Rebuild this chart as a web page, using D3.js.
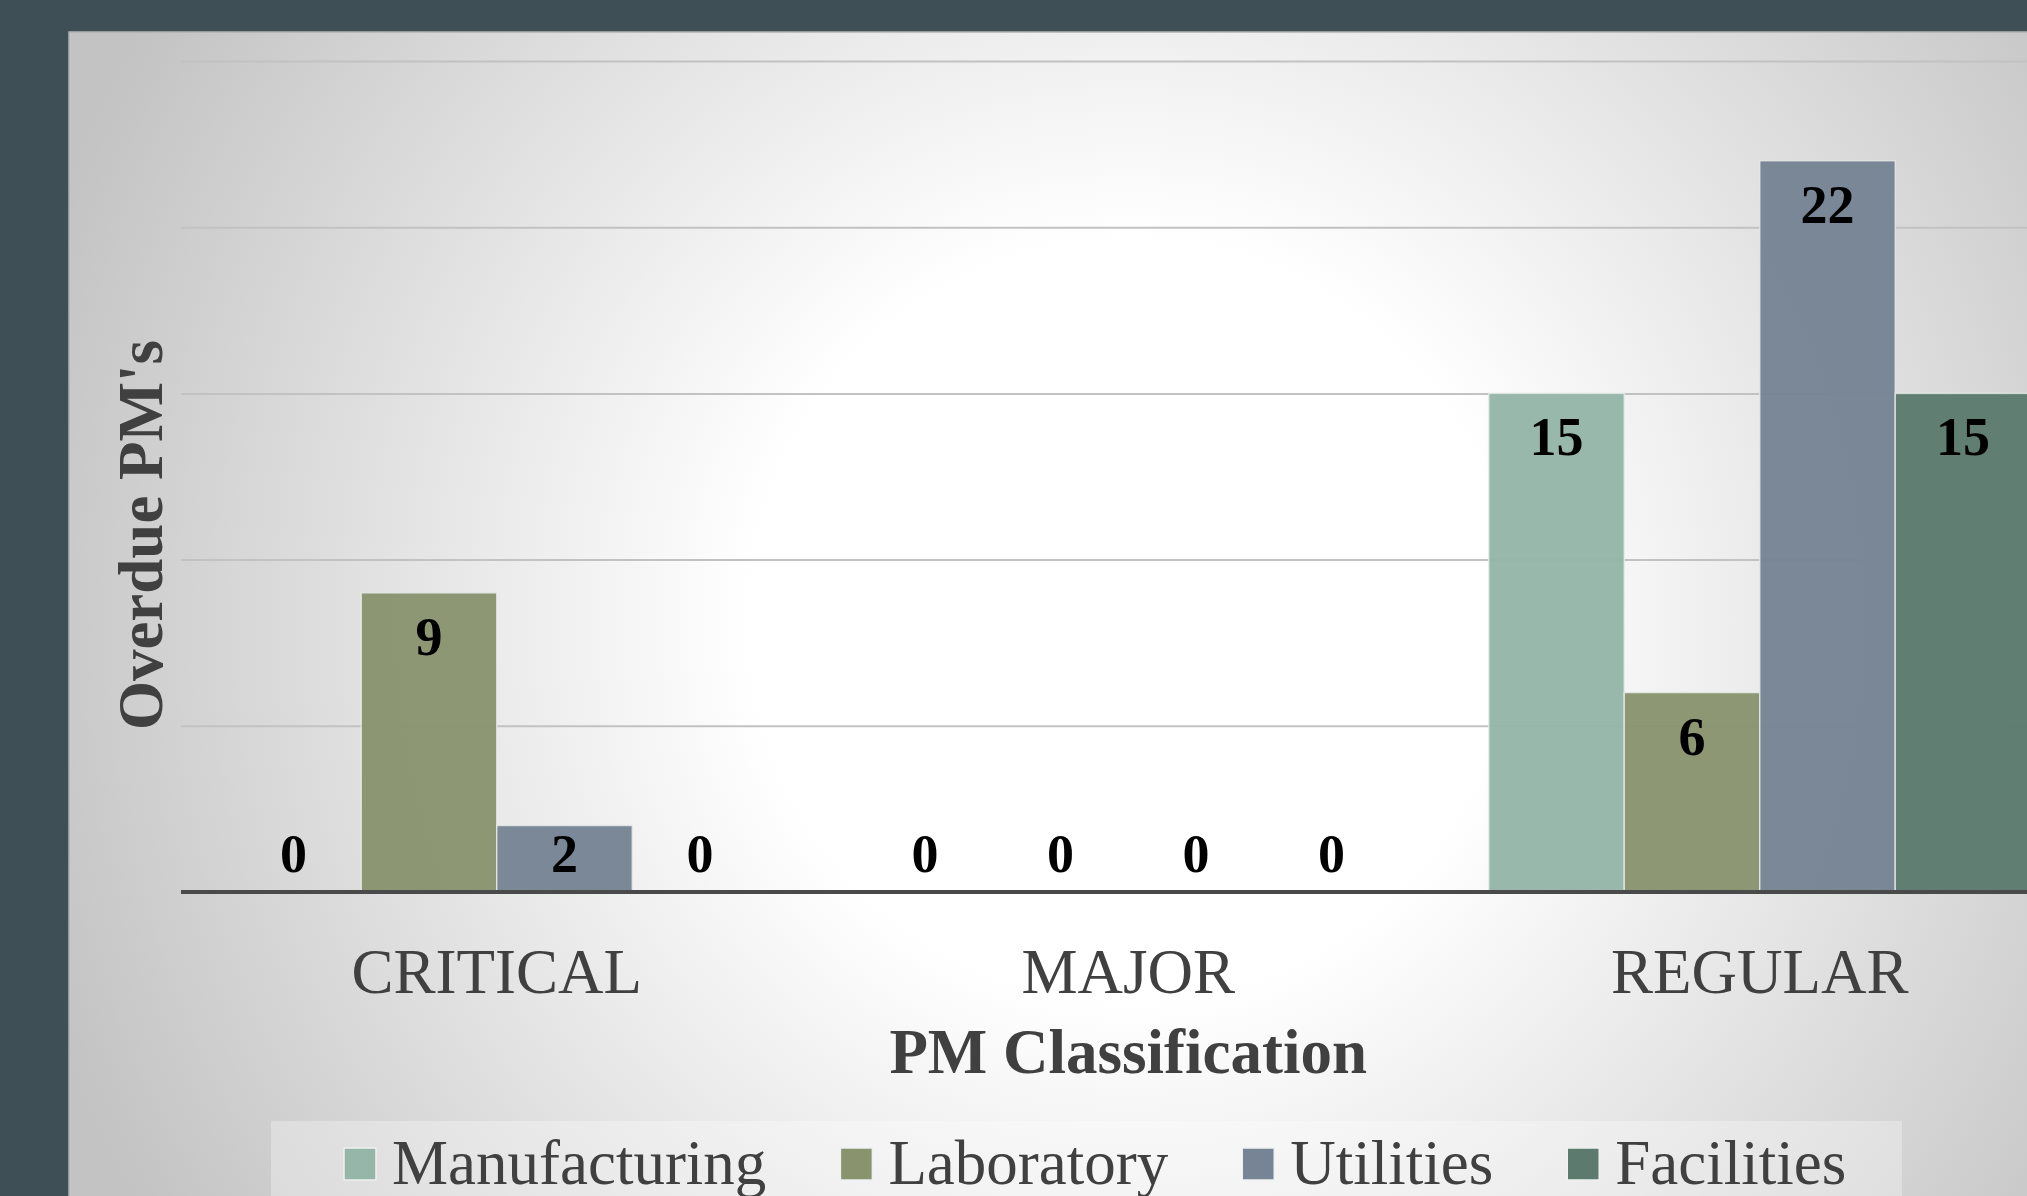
<!DOCTYPE html>
<html>
<head>
<meta charset="utf-8">
<script src="https://cdn.jsdelivr.net/npm/d3@7"></script>
<style>
  html, body { margin: 0; padding: 0; background: #3e5055; overflow: hidden; }
  svg { display: block; }
</style>
</head>
<body>
<svg id="chart" width="2027" height="1196"></svg>
<script>
// ---- data ----
const categories = ["CRITICAL", "MAJOR", "REGULAR"];
const seriesNames = ["Manufacturing", "Laboratory", "Utilities", "Facilities"];
const manufacturing = [0, 0, 15];
const laboratory = [9, 0, 6];
const utilities = [2, 0, 22];
const facilities = [0, 0, 15];
const yTicks = [0, 5, 10, 15, 20, 25];
const seriesColors = ["#95b6a8", "#89946f", "#768495", "#5c7b6e"];
const xTitle = "PM Classification";
const yTitle = "Overdue PM's";

const seriesValues = [manufacturing, laboratory, utilities, facilities];
const table = categories.map((c, i) => {
  const row = { category: c };
  seriesNames.forEach((s, j) => row[s] = seriesValues[j][i]);
  return row;
});

const svg = d3.select("#chart");
const W = 2027, H = 1196;
const serif = "'Liberation Serif', 'Times New Roman', serif";

// background panel
const defs = svg.append("defs");
const grad = defs.append("radialGradient")
  .attr("id", "bg").attr("gradientUnits", "userSpaceOnUse")
  .attr("cx", 1130).attr("cy", 620).attr("r", 1150);
grad.append("stop").attr("offset", "0").attr("stop-color", "#ffffff");
grad.append("stop").attr("offset", "0.33").attr("stop-color", "#ffffff");
grad.append("stop").attr("offset", "1").attr("stop-color", "#c3c3c3");

svg.append("rect").attr("x", 0).attr("y", 0).attr("width", W).attr("height", H).attr("fill", "#3e5055");
svg.append("rect").attr("x", 69).attr("y", 32).attr("width", W).attr("height", H)
  .attr("fill", "url(#bg)").attr("stroke", "#aeb3b4").attr("stroke-width", 1.5);

// plot geometry
const plot = { left: 181, right: 2075.5, top: 61, bottom: 892 };

const x0 = d3.scaleBand().domain(categories)
  .range([plot.left, plot.right]).paddingInner(0.1417).paddingOuter(0.07085);
const x1 = d3.scaleBand().domain(seriesNames).range([0, x0.bandwidth()]);
const y = d3.scaleLinear().domain([0, 25]).range([plot.bottom, plot.top]);
const color = d3.scaleOrdinal().domain(seriesNames).range(seriesColors);

// gridlines
const grid = svg.append("g").attr("transform", `translate(${plot.left},0)`)
  .call(d3.axisLeft(y).tickValues(yTicks.filter(t => t > 0)).tickSize(-(plot.right - plot.left)).tickFormat(""));
grid.select(".domain").remove();
grid.selectAll(".tick line").attr("stroke", "#c2c2c2").attr("stroke-width", 2);

// bars
const groups = svg.append("g").selectAll("g").data(table).join("g")
  .attr("transform", d => `translate(${x0(d.category)},0)`);

groups.selectAll("rect").data(d => seriesNames.map(s => ({ key: s, value: d[s] })))
  .join("rect")
  .attr("x", d => x1(d.key))
  .attr("y", d => y(d.value))
  .attr("width", x1.bandwidth())
  .attr("height", d => y(0) - y(d.value))
  .attr("fill", d => color(d.key))
  .attr("fill-opacity", 0.97)
  .attr("stroke", "#e6ebe9").attr("stroke-opacity", 0.8).attr("stroke-width", 1.5);

// value labels
groups.selectAll("text").data(d => seriesNames.map(s => ({ key: s, value: d[s] })))
  .join("text")
  .attr("x", d => x1(d.key) + x1.bandwidth() / 2)
  .attr("y", d => Math.min(y(d.value) + 62, y(0) - 20))
  .attr("text-anchor", "middle")
  .attr("font-family", serif).attr("font-weight", "bold").attr("font-size", 54)
  .attr("fill", "#000")
  .text(d => d.value);

// baseline axis
const xAxis = svg.append("g").attr("transform", `translate(0,${plot.bottom})`)
  .call(d3.axisBottom(x0).tickSize(0).tickPadding(0));
xAxis.select(".domain").attr("stroke", "#4a4a4a").attr("stroke-width", 4)
  .attr("d", `M${plot.left},0H${plot.right}`);
xAxis.selectAll(".tick text")
  .attr("y", 101).attr("dy", 0)
  .attr("font-family", serif).attr("font-size", 63).attr("fill", "#404040");

// axis titles
svg.append("text").attr("x", (plot.left + plot.right) / 2).attr("y", 1073)
  .attr("text-anchor", "middle")
  .attr("font-family", serif).attr("font-weight", "bold").attr("font-size", 63).attr("fill", "#404040")
  .text(xTitle);

svg.append("text").attr("transform", "translate(162,535) rotate(-90)")
  .attr("text-anchor", "middle")
  .attr("font-family", serif).attr("font-weight", "bold").attr("font-size", 63).attr("fill", "#404040")
  .text(yTitle);

// legend
const legend = svg.append("g");
legend.append("rect").attr("x", 271).attr("y", 1121).attr("width", 1631).attr("height", 120)
  .attr("fill", "#ffffff").attr("fill-opacity", 0.3);
let lx = 344;
seriesNames.forEach((s, i) => {
  const g = legend.append("g").attr("transform", `translate(${lx},0)`);
  g.append("rect").attr("x", 0).attr("y", 1148).attr("width", 32).attr("height", 32)
    .attr("fill", color(s)).attr("stroke", "#eef1f0").attr("stroke-width", 1.5);
  const t = g.append("text").attr("x", 48).attr("y", 1184)
    .attr("font-family", serif).attr("font-size", 63).attr("fill", "#404040").text(s);
  lx += 48 + t.node().getComputedTextLength() + 74;
});
</script>
</body>
</html>
